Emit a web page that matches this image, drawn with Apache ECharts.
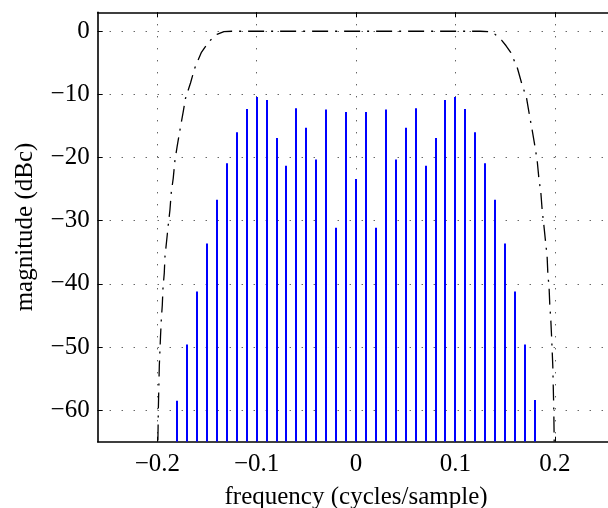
<!DOCTYPE html>
<html><head><meta charset="utf-8">
<script src="https://cdn.jsdelivr.net/npm/echarts@6/dist/echarts.min.js"></script>
<style>html,body{margin:0;padding:0;background:#fff}#c{width:608px;height:508px}</style>
</head><body><div id="c"></div>
<script>
// stem frequencies (cycles/sample) and magnitudes (dBc)
const freqs = [-0.18,-0.17,-0.16,-0.15,-0.14,-0.13,-0.12,-0.11,-0.10,-0.09,-0.08,-0.07,-0.06,-0.05,-0.04,-0.03,-0.02,-0.01,0,
               0.01,0.02,0.03,0.04,0.05,0.06,0.07,0.08,0.09,0.10,0.11,0.12,0.13,0.14,0.15,0.16,0.17,0.18];
const mags = [-58.5,-49.6,-41.2,-33.6,-26.7,-20.9,-16.0,-12.3,-10.4,-10.9,-16.9,-21.3,-12.2,-15.3,-20.3,-12.4,-31.1,-12.8,-23.4,
              -12.8,-31.1,-12.4,-20.3,-15.3,-12.2,-21.3,-16.9,-10.9,-10.4,-12.3,-16.0,-20.9,-26.7,-33.6,-41.2,-49.6,-58.4];
// spectral mask (dash-dot curve)
const maskFreqs = [-0.2,-0.1995,-0.199,-0.198,-0.1968,-0.196,-0.195,-0.1943,-0.193,-0.1923,-0.1907,-0.189,-0.1873,-0.186,-0.184,-0.1823,-0.18,-0.1773,-0.174,-0.1716,-0.1666,-0.1625,-0.1558,-0.151,-0.1464,-0.14,-0.133,-0.125,
                   0,
                   0.125,0.133,0.14,0.1464,0.151,0.1558,0.1625,0.1666,0.1716,0.174,0.1773,0.18,0.1823,0.184,0.186,0.1873,0.189,0.1907,0.1923,0.193,0.1943,0.195,0.196,0.1968,0.198,0.199,0.1995,0.2];
const maskDb = [-80,-66,-60,-53,-48.4,-45.7,-43.4,-40.7,-38.3,-35.7,-33.3,-30.7,-28.3,-25.6,-23.3,-20.5,-18.2,-15.7,-12.8,-10.6,-8.2,-5.9,-3.4,-2.3,-1.4,-0.5,-0.05,0,
                0,
                0,-0.05,-0.5,-1.4,-2.3,-3.4,-5.9,-8.2,-10.6,-12.8,-15.7,-18.2,-20.5,-23.3,-25.6,-28.3,-30.7,-33.3,-35.7,-38.3,-40.7,-43.4,-45.7,-48.4,-53,-60,-66,-80];
const xTicks = [-0.2,-0.1,0,0.1,0.2];
const yTicks = [-60,-50,-40,-30,-20,-10,0];
const xRange = [-0.26, 0.26];
const yRange = [-65, 3];

const fmt = v => (v < 0 ? '\u2212' + String(Math.abs(v)) : String(v));
const font = 'Liberation Serif';
const gridDots = {show:true, lineStyle:{color:'#222', width:1, type:[1,11]}};
const frame = {show:true, lineStyle:{color:'#000', width:1.6}};

const chart = echarts.init(document.getElementById('c'), null, {renderer:'canvas'});
chart.setOption({
  animation:false,
  backgroundColor:'#fff',
  grid:{left:97.7, top:12.3, width:516.7, height:429.4, containLabel:false, outerBoundsMode:'none'},
  xAxis:[{
    type:'value', min:xRange[0], max:xRange[1], position:'bottom',
    axisLine:Object.assign({onZero:false}, frame),
    axisTick:{show:true, inside:true, length:5, lineStyle:{color:'#000',width:1}, customValues:xTicks},
    axisLabel:{show:true, customValues:xTicks, formatter:fmt, fontFamily:font, fontSize:25, color:'#000', margin:10},
    splitLine:Object.assign({customValues:xTicks}, gridDots),
    name:'frequency (cycles/sample)', nameLocation:'middle', nameGap:43,
    nameTextStyle:{fontFamily:font, fontSize:25, color:'#000'}
  },{
    type:'value', min:xRange[0], max:xRange[1], position:'top',
    axisLine:Object.assign({onZero:false}, frame),
    axisTick:{show:true, inside:true, length:5, lineStyle:{color:'#000',width:1}, customValues:xTicks},
    axisLabel:{show:false}, splitLine:{show:false}
  }],
  yAxis:[{
    type:'value', min:yRange[0], max:yRange[1], position:'left',
    axisLine:Object.assign({onZero:false}, frame),
    axisTick:{show:true, inside:true, length:5, lineStyle:{color:'#000',width:1}, customValues:yTicks},
    axisLabel:{show:true, customValues:yTicks, formatter:fmt, fontFamily:font, fontSize:25, color:'#000', margin:8},
    splitLine:Object.assign({customValues:yTicks}, gridDots),
    name:'magnitude (dBc)', nameLocation:'middle', nameGap:60,
    nameTextStyle:{fontFamily:font, fontSize:25, color:'#000'}
  },{
    type:'value', min:yRange[0], max:yRange[1], position:'right',
    axisLine:Object.assign({onZero:false}, frame),
    axisTick:{show:true, inside:true, length:5, customValues:yTicks},
    axisLabel:{show:false}, splitLine:{show:false}
  }],
  series:[{
    type:'custom',
    xAxisIndex:0, yAxisIndex:0,
    data: freqs.map((f,i)=>[f, mags[i]]),
    clip:true,
    renderItem:(params, api)=>{
      const top = api.coord([api.value(0), api.value(1)]);
      const bot = api.coord([api.value(0), yRange[0]]);
      const x = Math.round(top[0]);
      return {type:'line', shape:{x1:x, y1:top[1], x2:x, y2:bot[1]},
              style:{stroke:'#0000ff', lineWidth:2}};
    },
    z:3
  },{
    type:'line',
    xAxisIndex:0, yAxisIndex:0,
    data: maskFreqs.map((f,i)=>[f, maskDb[i]]),
    showSymbol:false, symbol:'none', clip:true, smooth:false,
    lineStyle:{color:'#000', width:1.3, type:[16,7,2,7]},
    z:4
  }]
});
</script></body></html>
